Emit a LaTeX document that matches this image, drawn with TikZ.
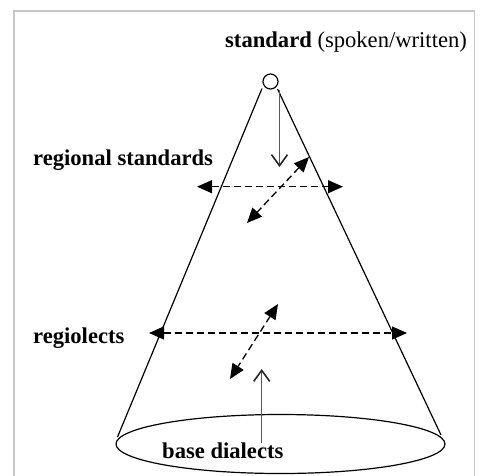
\documentclass[tikz,border=0pt]{standalone}
\usepackage{fontspec}
\setmainfont{Liberation Serif}
\usetikzlibrary{arrows.meta,shapes.geometric}
\tikzset{
  frameline/.style={draw=black!22, line width=1.2pt},
  coneline/.style={line width=1.2pt},
  dasharrow/.style={line width=1.3pt, dash pattern=on 7pt off 4pt, {Triangle[length=15pt,width=13pt]}-{Triangle[length=15pt,width=13pt]}},
  openarrow/.style={draw=black!65, line width=1.5pt, -{Straight Barb[length=11pt,width=16pt,line width=1.6pt,color=black!85]}},
  lbl/.style={anchor=base west, inner sep=0pt, font=\fontsize{22.6}{27}\selectfont}
}
\begin{document}
\begin{tikzpicture}[x=1pt,y=-1pt]
\useasboundingbox (0,0) rectangle (482,475);
% frame
\coordinate (f1) at (14,476);
\coordinate (f2) at (14,11);
\coordinate (f3) at (474.5,11);
\coordinate (f4) at (474.5,476);
\draw[frameline] (f1) -- (f2) -- (f3) -- (f4);
% apex circle
\node[circle, draw, line width=1.2pt, minimum size=15pt, inner sep=0pt] (apex) at (270.5,81.5) {};
% cone
\coordinate (tl) at (262,88.5);
\coordinate (tr) at (277.5,89);
\coordinate (bl) at (117.5,437);
\coordinate (br) at (441,435);
\draw[coneline] (tl) -- (bl);
\draw[coneline] (tr) -- (br);
\node[ellipse, draw, line width=1.2pt, minimum width=329pt, minimum height=59pt, inner sep=0pt] (base) at (280.5,444) {};
% vertical arrows
\coordinate (d1) at (279.5,90);
\coordinate (d2) at (279.5,167);
\draw[openarrow] (d1) -- (d2);
\coordinate (u1) at (261.7,443);
\coordinate (u2) at (261.7,369);
\draw[openarrow] (u1) -- (u2);
% dashed arrows upper
\coordinate (h1a) at (197,186.7);
\coordinate (h1b) at (343,186.7);
\draw[dasharrow] (h1a) -- (h1b);
\coordinate (g1a) at (309,157);
\coordinate (g1b) at (247,223);
\draw[dasharrow] (g1a) -- (g1b);
% dashed arrows lower
\coordinate (h2a) at (149,333);
\coordinate (h2b) at (407,333);
\draw[dasharrow] (h2a) -- (h2b);
\coordinate (g2a) at (278,304);
\coordinate (g2b) at (230,379);
\draw[dasharrow] (g2a) -- (g2b);
% labels
\node[lbl] (std) at (225,47) {\textbf{standard} (spoken/written)};
\node[lbl] (rstd) at (33,165) {\textbf{regional standards}};
\node[lbl] (rlects) at (33,343) {\textbf{regiolects}};
\node[lbl] (bdial) at (162,458) {\textbf{base dialects}};
\end{tikzpicture}
\end{document}
